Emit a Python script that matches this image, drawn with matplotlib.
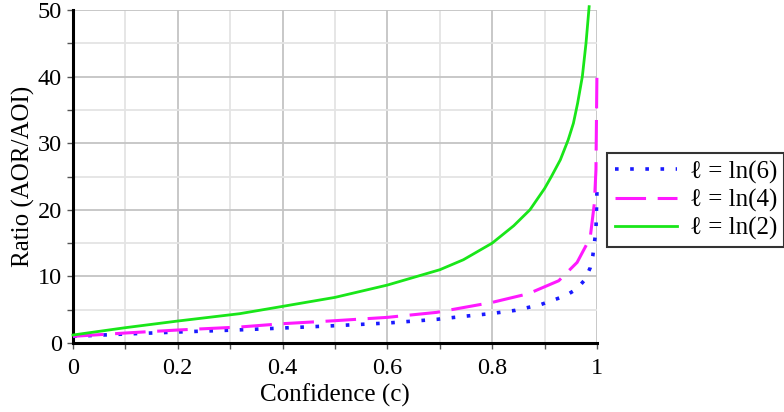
import matplotlib
matplotlib.use("Agg")
import matplotlib.pyplot as plt
from matplotlib.ticker import MultipleLocator

plt.rcParams['font.family'] = ['Liberation Serif', 'DejaVu Serif']

# values
c_ln2 = [0, 0.1, 0.2, 0.318, 0.4, 0.5, 0.6, 0.7, 0.745, 0.8, 0.841, 0.872,
         0.9, 0.913, 0.93, 0.945, 0.955, 0.963, 0.972, 0.979, 0.985]
r_ln2 = [1.2, 2.3, 3.3, 4.4, 5.5, 6.85, 8.7, 11.0, 12.5, 15.0, 17.6, 20.0,
         23.2, 25.0, 27.5, 30.5, 33.0, 36.0, 40.0, 45.0, 50.5]

c_ln4 = [0, 0.1, 0.2, 0.318, 0.4, 0.5, 0.6, 0.694, 0.8, 0.869, 0.927,
         0.962, 0.987, 0.995, 0.998, 1.0]
r_ln4 = [1.0, 1.5, 1.95, 2.4, 2.9, 3.35, 3.85, 4.6, 6.1, 7.4, 9.35,
         12.1, 15.8, 21.0, 26.0, 41.3]

c_ln6 = [0, 0.1, 0.2, 0.327, 0.4, 0.5, 0.6, 0.694, 0.745, 0.796, 0.844,
         0.892, 0.94, 0.961, 0.977, 0.987, 0.992, 0.995, 0.998, 1.0]
r_ln6 = [1.0, 1.35, 1.65, 2.0, 2.25, 2.6, 3.0, 3.55, 4.0, 4.4, 4.9,
         5.75, 7.1, 8.1, 9.5, 11.3, 13.1, 15.0, 17.0, 23.0]

labels = ['ℓ = ln(6)', 'ℓ = ln(4)', 'ℓ = ln(2)']
xtick_labels = ['0', '0.2', '0.4', '0.6', '0.8', '1']

fig = plt.figure(figsize=(7.84, 4.12), dpi=100)
ax = fig.add_axes([73/784, 1 - 343/412, (597 - 73)/784, (343 - 10)/412])

ax.plot(c_ln6, r_ln6, color='#1a1aff', lw=2.6, linestyle=(0, (1, 3.2)),
        label=labels[0], clip_on=False, zorder=3)
ax.plot(c_ln4, r_ln4, color='#ff19ff', lw=2.2, linestyle=(0, (10, 3.8)),
        label=labels[1], clip_on=False, zorder=3)
ax.plot(c_ln2, r_ln2, color='#19e619', lw=2.0, label=labels[2],
        clip_on=False, zorder=3)

ax.set_xlim(0, 1)
ax.set_ylim(0, 50)
ax.set_xticks([0, 0.2, 0.4, 0.6, 0.8, 1.0])
ax.set_xticklabels(xtick_labels)
ax.xaxis.set_minor_locator(MultipleLocator(0.1))
ax.yaxis.set_major_locator(MultipleLocator(10))
ax.yaxis.set_minor_locator(MultipleLocator(5))

ax.grid(which='major', color='#c4c4c4', lw=1.3)
ax.grid(which='minor', color='#e4e4e4', lw=1.3)
ax.set_axisbelow(True)

for s in ['top', 'right']:
    ax.spines[s].set_visible(False)
for s in ['left', 'bottom']:
    ax.spines[s].set_linewidth(2.2)
    ax.spines[s].set_color('black')

ax.tick_params(which='both', direction='out', length=4, width=1,
               color='#555555', labelsize=17.5)
ax.tick_params(axis='x', pad=7)
ax.tick_params(axis='y', pad=4)

ax.set_xlabel('Confidence (c)', fontsize=18, labelpad=3)
ax.set_ylabel('Ratio (AOR/AOI)', fontsize=18, labelpad=2)

leg = fig.legend(loc='upper left', bbox_to_anchor=(607/784, 1 - 153/412),
                 fontsize=18, frameon=True, fancybox=False,
                 borderaxespad=0, handlelength=2.5, handletextpad=0.5,
                 labelspacing=0.2, borderpad=0.3)
leg.get_frame().set_edgecolor('black')
leg.get_frame().set_linewidth(1.5)

fig.savefig('out.png', dpi=100)
